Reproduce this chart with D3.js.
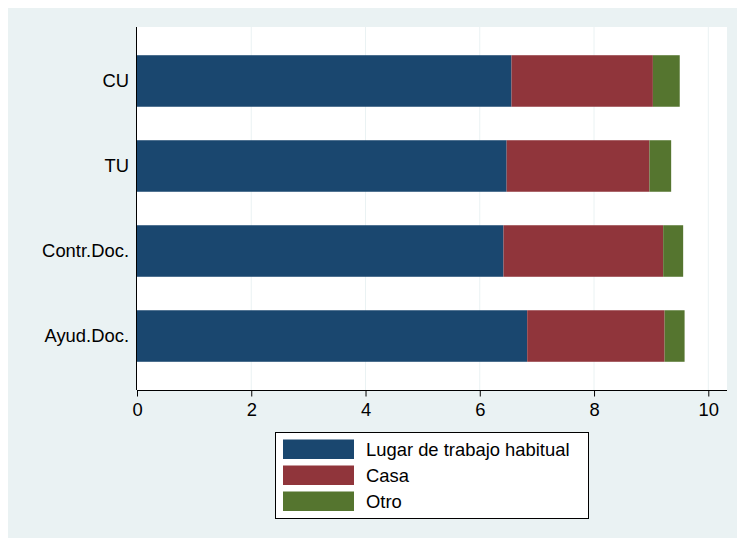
<!DOCTYPE html>
<html>
<head>
<meta charset="utf-8">
<script src="https://cdn.jsdelivr.net/npm/d3@7"></script>
<style>
  html, body { margin: 0; padding: 0; background: #ffffff; }
  svg { display: block; font-family: "Liberation Sans", Arial, Helvetica, sans-serif; }
</style>
</head>
<body>
<svg id="chart" width="737" height="538"></svg>
<script>
// Categories (top to bottom) and stacked segment values
const categories = ["CU", "TU", "Contr.Doc.", "Ayud.Doc."];
const lugarTrabajo = [6.555, 6.47, 6.415, 6.83];
const casa = [2.475, 2.50, 2.795, 2.405];
const otro = [0.47, 0.38, 0.35, 0.35];
const seriesNames = ["Lugar de trabajo habitual", "Casa", "Otro"];
const seriesColors = ["#1a476f", "#90353b", "#55752f"];
const xTicks = [0, 2, 4, 6, 8, 10];

const fontSize = "18.4px";
const svg = d3.select("#chart");

// Outer graph region
svg.append("rect")
  .attr("x", 8).attr("y", 8).attr("width", 729).attr("height", 530)
  .attr("fill", "#eaf2f3");

const plot = { left: 137, right: 727, top: 27, bottom: 390 };

// Plot region
svg.append("rect")
  .attr("x", plot.left).attr("y", plot.top)
  .attr("width", plot.right - plot.left).attr("height", plot.bottom - plot.top)
  .attr("fill", "#ffffff");

const x = d3.scaleLinear().domain([0, 10]).range([plot.left, 708.3]);
const y = d3.scaleBand().domain(categories)
  .range([plot.top, plot.bottom])
  .paddingInner(0.394).paddingOuter(0.332);

// Vertical grid lines
svg.append("g").selectAll("line")
  .data(xTicks.filter(d => d !== 0))
  .join("line")
  .attr("x1", d => x(d)).attr("x2", d => x(d))
  .attr("y1", plot.top).attr("y2", plot.bottom)
  .attr("stroke", "#eaf2f3").attr("stroke-width", 1);

// Stacked bars
const rows = categories.map((c, i) => ({
  cat: c,
  "Lugar de trabajo habitual": lugarTrabajo[i],
  "Casa": casa[i],
  "Otro": otro[i]
}));
const stacked = d3.stack().keys(seriesNames)(rows);

svg.append("g").selectAll("g")
  .data(stacked)
  .join("g")
  .attr("fill", (d, i) => seriesColors[i])
  .selectAll("rect")
  .data(d => d)
  .join("rect")
  .attr("x", d => x(d[0]))
  .attr("width", d => x(d[1]) - x(d[0]))
  .attr("y", d => y(d.data.cat))
  .attr("height", y.bandwidth());

// X axis
const xAxis = d3.axisBottom(x).tickValues(xTicks).tickSize(6.5).tickPadding(6.5)
  .tickFormat(d3.format("d"));
const gx = svg.append("g")
  .attr("transform", `translate(0,${plot.bottom})`)
  .call(xAxis);
gx.select(".domain").attr("stroke", "#000").attr("stroke-width", 1)
  .attr("d", `M${plot.left},0.5H${plot.right}`);
gx.selectAll(".tick line").attr("stroke", "#000");
gx.selectAll(".tick text")
  .attr("font-size", fontSize).attr("fill", "#000")
  .attr("font-family", "'Liberation Sans', Arial, sans-serif");

// Y axis
const yAxis = d3.axisLeft(y).tickSize(0).tickPadding(8);
const gy = svg.append("g")
  .attr("transform", `translate(${plot.left},0)`)
  .call(yAxis);
gy.select(".domain").attr("stroke", "#000").attr("stroke-width", 1)
  .attr("d", `M-0.5,${plot.top}V${plot.bottom}`);
gy.selectAll(".tick text")
  .attr("font-size", fontSize).attr("fill", "#000")
  .attr("font-family", "'Liberation Sans', Arial, sans-serif");

// Legend
const legend = svg.append("g");
legend.append("rect")
  .attr("x", 275.5).attr("y", 432.5).attr("width", 313).attr("height", 86)
  .attr("fill", "#ffffff").attr("stroke", "#000").attr("stroke-width", 1);

const legendRows = legend.selectAll("g.item")
  .data(seriesNames)
  .join("g")
  .attr("class", "item")
  .attr("transform", (d, i) => `translate(283,${439.5 + i * 26})`);
legendRows.append("rect")
  .attr("width", 71).attr("height", 19.5)
  .attr("fill", (d, i) => seriesColors[i]);
legendRows.append("text")
  .attr("x", 83).attr("y", 16.3)
  .attr("font-size", fontSize).attr("fill", "#000")
  .text(d => d);
</script>
</body>
</html>
